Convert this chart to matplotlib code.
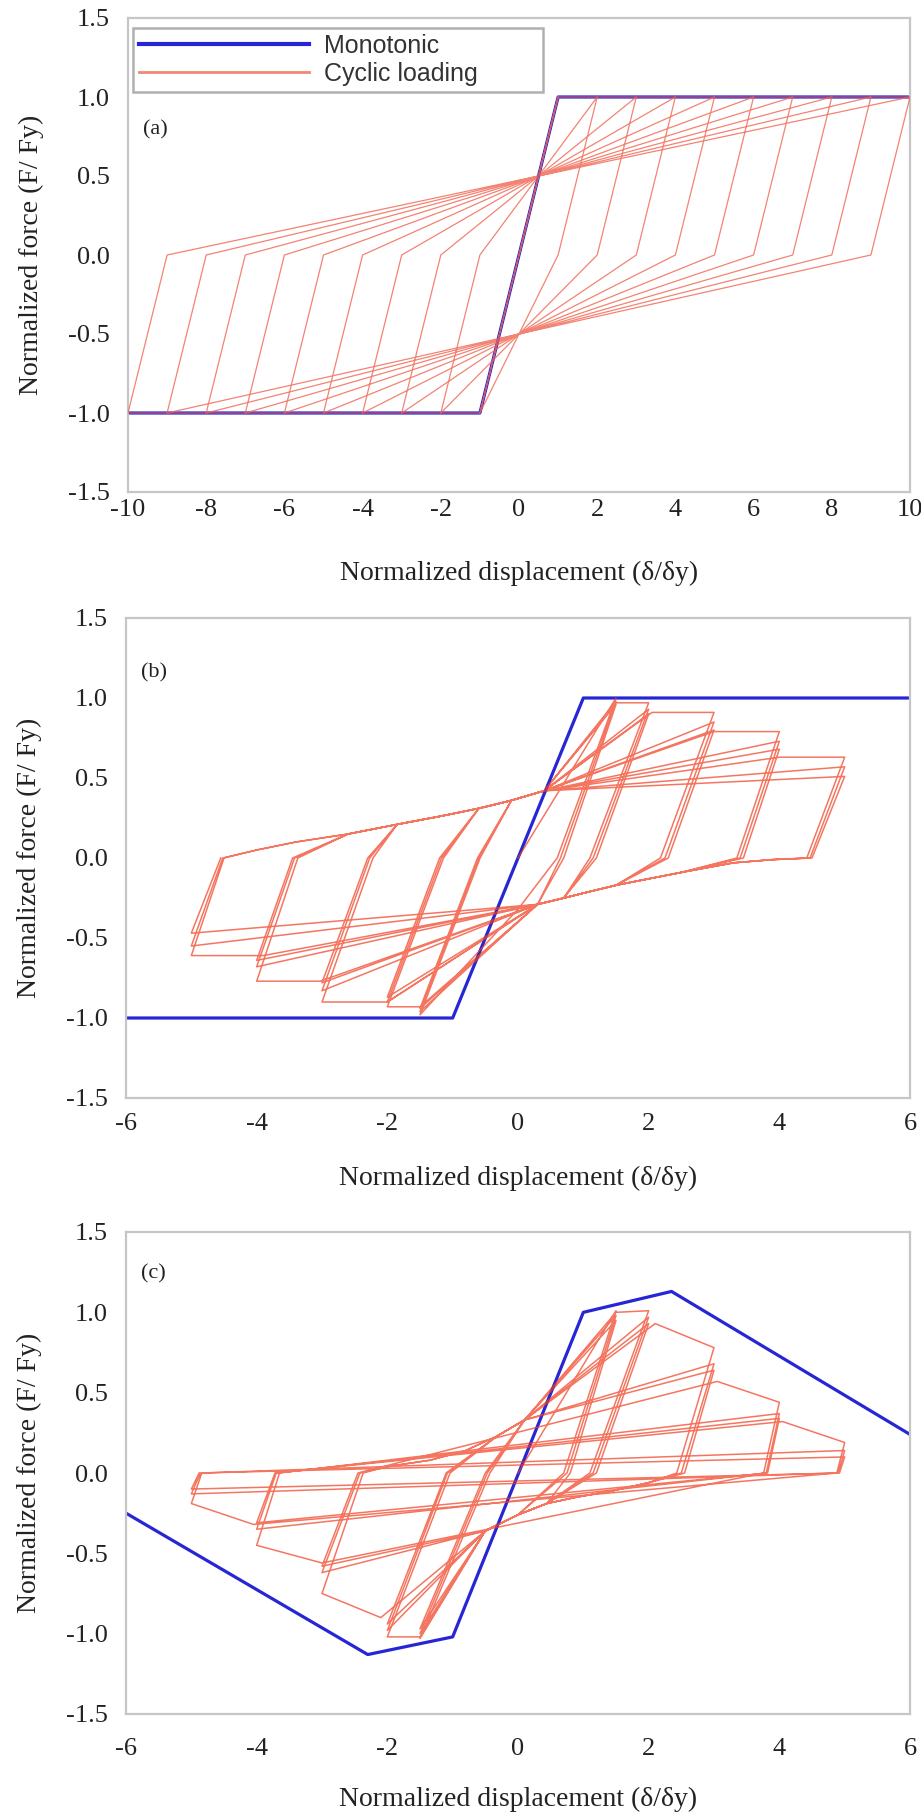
import numpy as np
import matplotlib
matplotlib.use('Agg')
import matplotlib.pyplot as plt

plt.rcParams['font.family'] = ['Liberation Serif', 'DejaVu Serif']
plt.rcParams['axes.unicode_minus'] = False

# ---------------- data ----------------
# (a) monotonic backbone
a_mono_x = [-10, -1, 1, 10]
a_mono_y = [-1.0, -1.0, 1.0, 1.0]
# (a) cyclic path, vertex by vertex
a_cyc_x = [0, 1, 0, -1, 0, 1, 2, 1, -1, -2, -1, 2, 3, 2, -2, -3, -2, 3, 4, 3, -3, -4, -3,
           4, 5, 4, -4, -5, -4, 5, 6, 5, -5, -6, -5, 6, 7, 6, -6, -7, -6, 7, 8, 7, -7, -8,
           -7, 8, 9, 8, -8, -9, -8, 9, 10, 9, -9, -10, -9, 10]
a_cyc_y = [0, 1, 0, -1, 0, 1, 1, 0, -1, -1, 0, 1, 1, 0, -1, -1, 0, 1, 1, 0, -1, -1, 0,
           1, 1, 0, -1, -1, 0, 1, 1, 0, -1, -1, 0, 1, 1, 0, -1, -1, 0, 1, 1, 0, -1, -1,
           0, 1, 1, 0, -1, -1, 0, 1, 1, 0, -1, -1, 0, 1]

# (b) monotonic backbone
b_mono_x = [-6, -1, 1, 6]
b_mono_y = [-1.0, -1.0, 1.0, 1.0]
# (b) cycles: positive peak, point where reloading meets the envelope, unloading end
b_pos_px = [1.5, 1.5, 1.5, 2.0, 2.0, 2.0, 3.0, 3.0, 3.0, 4.0, 4.0, 4.0, 5.0, 5.0, 5.0]
b_pos_py = [1.0, 0.98, 0.96, 0.97, 0.93, 0.90, 0.91, 0.85, 0.80, 0.79, 0.73, 0.68, 0.63, 0.57, 0.51]
b_pos_rx = [1.5, 1.5, 1.5, 1.5, 2.0, 2.0, 2.05, 3.0, 3.0, 3.0, 4.0, 4.0, 4.0, 5.0, 5.0]
b_pos_ry = [1.0, 0.98, 0.96, 0.97, 0.93, 0.90, 0.91, 0.85, 0.80, 0.79, 0.73, 0.68, 0.63, 0.57, 0.51]
b_pos_ux = [0.6, 0.65, 0.7, 1.1, 1.15, 1.2, 2.18, 2.25, 2.3, 3.35, 3.4, 3.45, 4.42, 4.47, 4.5]
b_neg_px = [-1.5, -1.5, -1.5, -2.0, -2.0, -2.0, -3.0, -3.0, -3.0, -4.0, -4.0, -4.0, -5.0, -5.0, -5.0]
b_neg_py = [-0.98, -0.96, -0.94, -0.93, -0.90, -0.87, -0.90, -0.83, -0.78, -0.77, -0.68, -0.64, -0.61, -0.55, -0.47]
b_neg_rx = [-1.5, -1.5, -1.5, -1.5, -2.0, -2.0, -2.0, -3.0, -3.0, -3.03, -4.0, -4.0, -3.9, -5.0, -5.0]
b_neg_ry = [-0.98, -0.96, -0.94, -0.93, -0.90, -0.87, -0.90, -0.83, -0.78, -0.77, -0.68, -0.64, -0.61, -0.55, -0.47]
b_neg_ux = [-0.58, -0.6, -0.62, -1.14, -1.17, -1.2, -2.22, -2.27, -2.3, -3.37, -3.42, -3.45, -4.5, -4.52, -4.55]
b_curve = [True] * 15
# (b) pinched reloading curves
b_up_x = [-4.0, -3.4, -2.6, -1.85, -1.2, -0.6, -0.1, 0.4]
b_up_y = [0.05, 0.10, 0.15, 0.21, 0.26, 0.31, 0.36, 0.42]
b_lo_x = [3.9, 3.3, 2.5, 1.5, 0.7, 0.3, 0.0]
b_lo_y = [-0.01, -0.03, -0.09, -0.17, -0.25, -0.29, -0.32]

# (c) monotonic backbone
c_mono_x = [-6, -2.3, -1.0, 1.0, 2.35, 6]
c_mono_y = [-0.25, -1.13, -1.02, 1.0, 1.13, 0.24]
# (c) cycles
c_pos_px = [1.5, 1.5, 1.5, 2.0, 2.0, 2.0, 3.0, 3.0, 3.0, 4.0, 4.0, 4.0, 5.0, 5.0, 5.0]
c_pos_py = [1.01, 0.98, 0.95, 1.01, 0.97, 0.93, 0.78, 0.68, 0.64, 0.44, 0.37, 0.34, 0.19, 0.14, 0.10]
c_pos_rx = [1.5, 1.5, 1.5, 1.5, 2.0, 2.0, 2.1, 3.0, 3.0, 3.05, 4.0, 4.0, 4.05, 5.0, 5.0]
c_pos_ry = [1.01, 0.98, 0.95, 1.0, 0.97, 0.93, 0.93, 0.68, 0.64, 0.57, 0.37, 0.34, 0.32, 0.14, 0.10]
c_pos_ux = [0.7, 0.75, 0.8, 1.1, 1.15, 1.2, 2.43, 2.5, 2.55, 3.76, 3.8, 3.82, 4.88, 4.9, 4.92]
c_neg_px = [-1.5, -1.5, -1.5, -2.0, -2.0, -2.0, -3.0, -3.0, -3.0, -4.0, -4.0, -4.0, -5.0, -5.0, -5.0]
c_neg_py = [-1.03, -1.0, -0.97, -1.02, -0.98, -0.94, -0.75, -0.62, -0.58, -0.45, -0.35, -0.31, -0.19, -0.13, -0.10]
c_neg_rx = [-1.5, -1.5, -1.5, -1.5, -2.0, -2.0, -2.1, -3.0, -3.0, -3.0, -4.0, -4.0, -4.05, -5.0, -5.0]
c_neg_ry = [-1.03, -1.0, -0.97, -1.02, -0.98, -0.94, -0.9, -0.62, -0.58, -0.56, -0.35, -0.31, -0.32, -0.13, -0.10]
c_neg_ux = [-0.43, -0.47, -0.5, -1.04, -1.08, -1.1, -2.37, -2.42, -2.45, -3.65, -3.7, -3.72, -4.84, -4.86, -4.88]
c_curve = [True] * 9 + [False] * 6
c_up_x = [-2.0, -1.34, -0.8, -0.32, 0.1, 0.44]
c_up_y = [0.04, 0.08, 0.14, 0.23, 0.33, 0.42]
c_lo_x = [2.0, 1.46, 0.9, 0.44, 0.0, -0.5]
c_lo_y = [-0.06, -0.11, -0.15, -0.19, -0.26, -0.36]


def loop_path(ppx, ppy, prx, pry, pux, npx, npy, nrx, nry, nux, curve, upx, upy, lox, loy):
  xs = [0.0]
  ys = [0.0]
  for i in range(len(ppx)):
    # reload towards positive side
    if curve[i] and i > 0:
      for x, y in zip(upx, upy):
        if x > xs[-1] + 0.35:
          xs.append(x); ys.append(y)
    if prx[i] != ppx[i]:
      xs.append(prx[i]); ys.append(pry[i])
    xs += [ppx[i], pux[i]]
    ys += [ppy[i], 0.0]
    # reload towards negative side
    if curve[i]:
      for x, y in zip(lox, loy):
        if x < xs[-1] - 0.35:
          xs.append(x); ys.append(y)
    if nrx[i] != npx[i]:
      xs.append(nrx[i]); ys.append(nry[i])
    xs += [npx[i], nux[i]]
    ys += [npy[i], 0.0]
  return xs, ys


b_cyc_x, b_cyc_y = loop_path(b_pos_px, b_pos_py, b_pos_rx, b_pos_ry, b_pos_ux,
                             b_neg_px, b_neg_py, b_neg_rx, b_neg_ry, b_neg_ux,
                             b_curve, b_up_x, b_up_y, b_lo_x, b_lo_y)
c_cyc_x, c_cyc_y = loop_path(c_pos_px, c_pos_py, c_pos_rx, c_pos_ry, c_pos_ux,
                             c_neg_px, c_neg_py, c_neg_rx, c_neg_ry, c_neg_ux,
                             c_curve, c_up_x, c_up_y, c_lo_x, c_lo_y)

mono_col = '#2626d4'
yticks = [-1.5, -1.0, -0.5, 0.0, 0.5, 1.0, 1.5]

fig = plt.figure(figsize=(9.21, 18.2), dpi=100)
W, H = 921.0, 1820.0
axa = fig.add_axes([128/W, 1-492/H, 782/W, 474/H])
axb = fig.add_axes([126/W, 1-1098/H, 784/W, 480/H])
axc = fig.add_axes([126/W, 1-1714/H, 784/W, 482/H])

panels = [
  (axa, a_mono_x, a_mono_y, a_cyc_x, a_cyc_y, 10, range(-10, 11, 2), '(a)', 0.763, 5, -0.146,
   '#f06450', 0.8, 0.9),
  (axb, b_mono_x, b_mono_y, b_cyc_x, b_cyc_y, 6, range(-6, 7, 2), '(b)', 0.886, 11, -0.141,
   '#f03c1e', 0.7, 1.1),
  (axc, c_mono_x, c_mono_y, c_cyc_x, c_cyc_y, 6, range(-6, 7, 2), '(c)', 0.913, 17, -0.151,
   '#f03c1e', 0.7, 1.1),
]

for ax, mx, my, cx, cy, xm, xt, tag, tagy, xpad, xly, ccol, calpha, clw in panels:
  ax.plot(mx, my, color=mono_col, lw=2.3, zorder=2, label='Monotonic')
  ax.plot(cx, cy, color=ccol, lw=clw, alpha=calpha, zorder=3, label='Cyclic loading')
  ax.set_xlim(-xm, xm)
  ax.set_ylim(-1.5, 1.5)
  ax.set_xticks(list(xt))
  ax.set_yticks(yticks)
  ax.set_yticklabels(['%.1f' % v for v in yticks])
  ax.tick_params(axis='both', length=0, labelsize=19, colors='#222222')
  ax.tick_params(axis='x', pad=xpad)
  ax.tick_params(axis='y', pad=13)
  for s in ax.spines.values():
    s.set_color('#c6c6c6')
    s.set_linewidth(1.6)
  ax.set_xlabel('Normalized displacement (\u03b4/\u03b4y)', fontsize=20, color='#222222')
  ax.xaxis.set_label_coords(0.5, xly)
  ax.set_ylabel('Normalized force (F/ Fy)', fontsize=20, color='#222222')
  ax.yaxis.set_label_coords(-0.107, 0.5)
  ax.text(0.019, tagy, tag, transform=ax.transAxes, fontsize=16, va='center', ha='left',
          color='#222222')

leg = axa.legend(loc='upper left', bbox_to_anchor=(0.0064, 0.979, 0.524, 0.0), mode='expand',
                 prop={'family': 'Liberation Sans', 'size': 18}, handlelength=6.8,
                 handletextpad=0.6, borderpad=0.25, labelspacing=0.15, fancybox=False,
                 borderaxespad=0.0, framealpha=1.0)
leg.get_frame().set_edgecolor('#b0b0b0')
leg.get_frame().set_linewidth(1.8)
for t in leg.get_texts():
  t.set_color('#333333')
leg.get_lines()[1].set_color('#f08878')
leg.get_lines()[1].set_alpha(1.0)
leg.get_lines()[1].set_linewidth(2.0)
leg.get_lines()[0].set_linewidth(3.0)

fig.savefig('out.png', dpi=100)
